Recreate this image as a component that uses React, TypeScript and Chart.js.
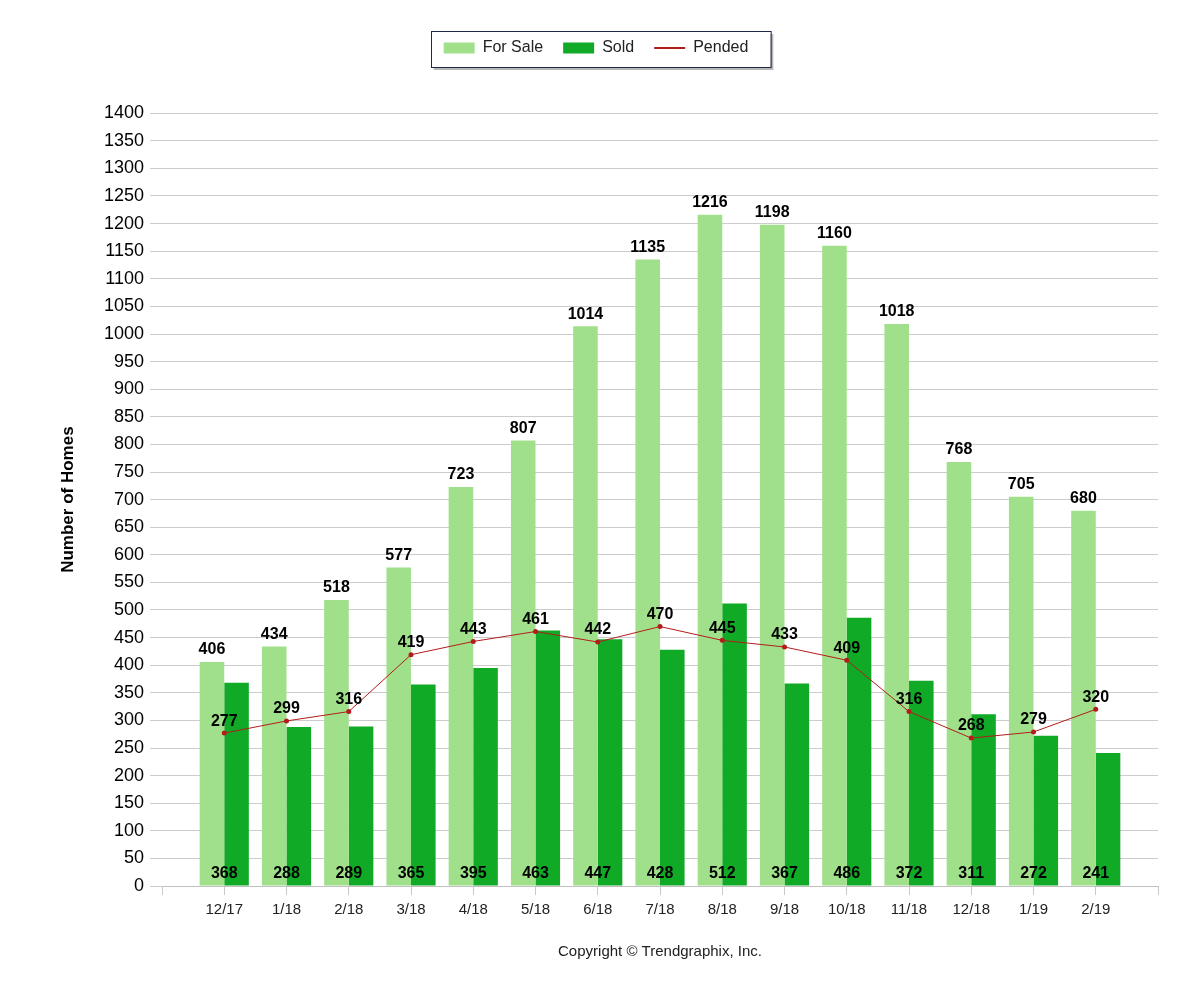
import { useEffect, useRef } from 'react';
import { Chart, registerables } from 'chart.js';

Chart.register(...registerables);

const MONTHS = ['12/17', '1/18', '2/18', '3/18', '4/18', '5/18', '6/18', '7/18', '8/18', '9/18', '10/18', '11/18', '12/18', '1/19', '2/19'];
const FOR_SALE = [406, 434, 518, 577, 723, 807, 1014, 1135, 1216, 1198, 1160, 1018, 768, 705, 680];
const SOLD = [368, 288, 289, 365, 395, 463, 447, 428, 512, 367, 486, 372, 311, 272, 241];
const PENDED = [277, 299, 316, 419, 443, 461, 442, 470, 445, 433, 409, 316, 268, 279, 320];

const LIGHT = '#a0e08a';
const DARK = '#10aa27';
const RED = '#b41c1c';
const FONT = '"Liberation Sans", Arial, sans-serif';

// pad one empty slot on each side, like the original axis
const pad = (arr: (number | string)[], fill: any) => [fill, ...arr, fill];

const legendBox = {
  id: 'legendBox',
  afterLayout(chart: any) {
    // nudge the legend a little left so it sits centred on the page
    if (chart.legend) {
      chart.legend.left -= 7;
      chart.legend.right -= 7;
    }
  },
  beforeDraw(chart: any) {
    const boxes = chart.legend?.legendHitBoxes;
    if (!boxes || !boxes.length) return;
    const l = Math.min(...boxes.map((b: any) => b.left)) - 13;
    const r = Math.max(...boxes.map((b: any) => b.left + b.width)) + 22;
    const cy = boxes[0].top + boxes[0].height / 2;
    const t = cy - 17;
    const h = 36;
    const ctx = chart.ctx;
    ctx.save();
    ctx.fillStyle = 'rgba(0,0,0,0.28)';
    ctx.fillRect(l + 3, t + 3, r - l, h);
    ctx.fillStyle = '#fff';
    ctx.fillRect(l, t, r - l, h);
    ctx.strokeStyle = '#1e2a48';
    ctx.lineWidth = 1;
    ctx.strokeRect(Math.round(l) + 0.5, Math.round(t) + 0.5, r - l, h);
    ctx.restore();
  },
};

const valueLabels = {
  id: 'valueLabels',
  afterDatasetsDraw(chart: any) {
    const ctx = chart.ctx;
    const x = chart.scales.x;
    const y0 = chart.scales.y.getPixelForValue(0);
    ctx.save();
    ctx.font = `bold 16px ${FONT}`;
    ctx.fillStyle = '#000';
    ctx.textAlign = 'center';
    ctx.textBaseline = 'middle';
    chart.getDatasetMeta(0).data.forEach((el: any, i: number) => {
      const v = chart.data.datasets[0].data[i];
      if (v == null) return;
      ctx.fillText(String(v), el.x, el.y - 12);
    });
    chart.data.datasets[1].data.forEach((v: any, i: number) => {
      if (v == null) return;
      ctx.fillText(String(v), x.getPixelForValue(i), y0 - 12);
    });
    chart.getDatasetMeta(2).data.forEach((el: any, i: number) => {
      const v = chart.data.datasets[2].data[i];
      if (v == null) return;
      ctx.fillText(String(v), el.x, el.y - 12);
    });
    ctx.restore();
  },
};

export default function App() {
  const canvasRef = useRef<HTMLCanvasElement>(null);

  useEffect(() => {
    if (!canvasRef.current) return;
    const chart = new Chart(canvasRef.current, {
      type: 'bar',
      data: {
        labels: pad(MONTHS, ''),
        datasets: [
          {
            label: 'For Sale',
            data: pad(FOR_SALE, null) as any,
            backgroundColor: LIGHT,
            barPercentage: 1,
            categoryPercentage: 0.79,
            order: 1,
          },
          {
            label: 'Sold',
            data: pad(SOLD, null) as any,
            backgroundColor: DARK,
            barPercentage: 1,
            categoryPercentage: 0.79,
            order: 1,
          },
          {
            type: 'line',
            label: 'Pended',
            data: pad(PENDED, null) as any,
            borderColor: RED,
            backgroundColor: RED,
            borderWidth: 1,
            pointRadius: 2.5,
            pointBorderWidth: 0,
            order: 0,
          } as any,
        ],
      },
      plugins: [legendBox, valueLabels],
      options: {
        animation: false,
        responsive: true,
        maintainAspectRatio: false,
        layout: { padding: { left: 40, right: 34, top: 12, bottom: 31 } },
        plugins: {
          tooltip: { enabled: false },
          // empty title used as a spacer between legend and plot
          title: {
            display: true,
            text: '',
            weight: 500,
            font: { size: 1 },
            padding: { top: 0, bottom: 46 },
          } as any,
          legend: {
            position: 'top',
            labels: {
              usePointStyle: true,
              pointStyleWidth: 31,
              boxHeight: 11,
              padding: 20,
              color: '#222',
              font: { size: 16, family: FONT },
              generateLabels: (chart: any) =>
                chart.data.datasets.map((ds: any, i: number) => ({
                  text: ds.label,
                  fillStyle: ds.backgroundColor,
                  strokeStyle: ds.borderColor ?? ds.backgroundColor,
                  lineWidth: i === 2 ? 2 : 0,
                  pointStyle: i === 2 ? 'line' : 'rect',
                  fontColor: '#222',
                  datasetIndex: i,
                  hidden: false,
                })),
            },
          },
        },
        scales: {
          x: {
            offset: false,
            grid: { offset: false, drawOnChartArea: false, drawTicks: true, tickLength: 9, color: '#c8c8c8' },
            border: { display: true, color: '#c0c0c0' },
            ticks: { autoSkip: false, maxRotation: 0, padding: 6, color: '#222', font: { size: 15, family: FONT } },
            title: {
              display: true,
              text: 'Copyright © Trendgraphix, Inc.',
              color: '#222',
              font: { size: 15, family: FONT },
              padding: { top: 18, bottom: 0 },
            },
          },
          y: {
            min: 0,
            max: 1400,
            afterFit: (s: any) => {
              s.width = 114;
            },
            border: { display: false },
            grid: { color: '#cccccc', tickLength: 12 },
            ticks: {
              stepSize: 50,
              padding: 6,
              color: '#000',
              font: { size: 18, family: FONT },
              callback: (v: any) => String(v),
            },
            title: {
              display: true,
              text: 'Number of Homes',
              color: '#000',
              font: { size: 17, weight: 'bold', family: FONT },
              padding: { top: 10, bottom: 0 },
            },
          },
        },
      },
    });
    return () => chart.destroy();
  }, []);

  return (
    <div style={{ width: 1184, height: 984, position: 'relative' }}>
      <canvas ref={canvasRef} />
    </div>
  );
}
